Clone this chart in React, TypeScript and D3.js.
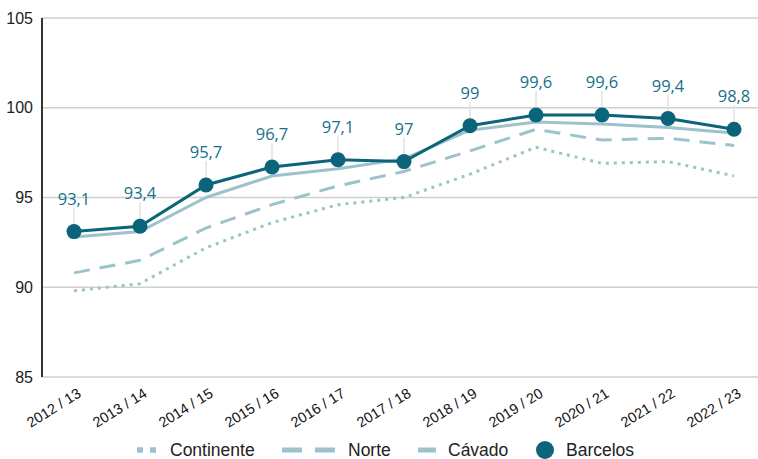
import React from "react";
import * as d3 from "d3";

const categories = ["2012 / 13", "2013 / 14", "2014 / 15", "2015 / 16", "2016 / 17", "2017 / 18", "2018 / 19", "2019 / 20", "2020 / 21", "2021 / 22", "2022 / 23"];
const continente = [89.8, 90.2, 92.2, 93.6, 94.6, 95.0, 96.3, 97.8, 96.9, 97.0, 96.2];
const norte = [90.8, 91.5, 93.3, 94.6, 95.65, 96.45, 97.6, 98.8, 98.2, 98.3, 97.9];
const cavado = [92.8, 93.1, 95.0, 96.2, 96.6, 97.15, 98.75, 99.2, 99.1, 98.9, 98.6];
const barcelos = [93.1, 93.4, 95.7, 96.7, 97.1, 97.0, 99.0, 99.6, 99.6, 99.4, 98.8];
const yTicks = [85, 90, 95, 100, 105];

const W = 758, H = 459;
const dark = "#0b6479";
const light = "#9cc3cc";
const labelColor = "#17708a";

export default function App() {
  const x = d3.scalePoint<string>().domain(categories).range([74, 734]);
  const y = d3.scaleLinear().domain([85, 105]).range([377, 18]);
  const line = d3.line<number>().x((_, i) => x(categories[i])!).y((d) => y(d));
  const fmt = (v: number) => String(v).replace(".", ",");
  return (
    <svg width={W} height={H} style={{ position: "absolute", left: 0, top: 0, fontFamily: "Liberation Sans, Arial, sans-serif" }}>
      {yTicks.map((t) => (
        <g key={t}>
          <line x1={42} x2={W} y1={y(t)} y2={y(t)} stroke="#cfcfcf" strokeWidth={1.5} />
          <text x={33} y={y(t) + 5.5} textAnchor="end" fontSize={16} fill="#222">{t}</text>
        </g>
      ))}
      <line x1={42} x2={42} y1={y(105)} y2={y(85)} stroke="#333" strokeWidth={2} />
      {barcelos.map((v, i) => (
        <line key={"l" + i} x1={x(categories[i])} x2={x(categories[i])} y1={y(v) - 24} y2={y(v)} stroke="#e2e2e2" strokeWidth={1.5} />
      ))}
      <path d={line(continente)!} fill="none" stroke={light} strokeWidth={3} strokeDasharray="3 5" />
      <path d={line(norte)!} fill="none" stroke={light} strokeWidth={3} strokeDasharray="16 10" />
      <path d={line(cavado)!} fill="none" stroke={light} strokeWidth={3} />
      <path d={line(barcelos)!} fill="none" stroke={dark} strokeWidth={3} />
      {barcelos.map((v, i) => (
        <g key={"p" + i}>
          <circle cx={x(categories[i])} cy={y(v)} r={7.5} fill={dark} />
          <text x={x(categories[i])} y={y(v) - 27} textAnchor="middle" fontSize={16.5} fontWeight={500} fill={labelColor} fontFamily="Open Sans, sans-serif">{fmt(v)}</text>
        </g>
      ))}
      {categories.map((c) => (
        <text key={c} transform={`translate(${x(c)! + 8},${y(85) + 19}) rotate(-32)`} textAnchor="end" fontSize={14.5} fill="#111">{c}</text>
      ))}
      <g fontSize={17.5} fill="#222">
        <line x1={137} x2={156} y1={450} y2={450} stroke={light} strokeWidth={5.5} strokeDasharray="6 7" />
        <text x={170} y={456}>Continente</text>
        <line x1={282} x2={336} y1={450} y2={450} stroke={light} strokeWidth={5} strokeDasharray="20 13" />
        <text x={348} y={456}>Norte</text>
        <line x1={418} x2={436} y1={450} y2={450} stroke={light} strokeWidth={5} />
        <text x={448} y={456}>Cávado</text>
        <circle cx={545} cy={450} r={9} fill={dark} />
        <text x={566} y={456}>Barcelos</text>
      </g>
    </svg>
  );
}
